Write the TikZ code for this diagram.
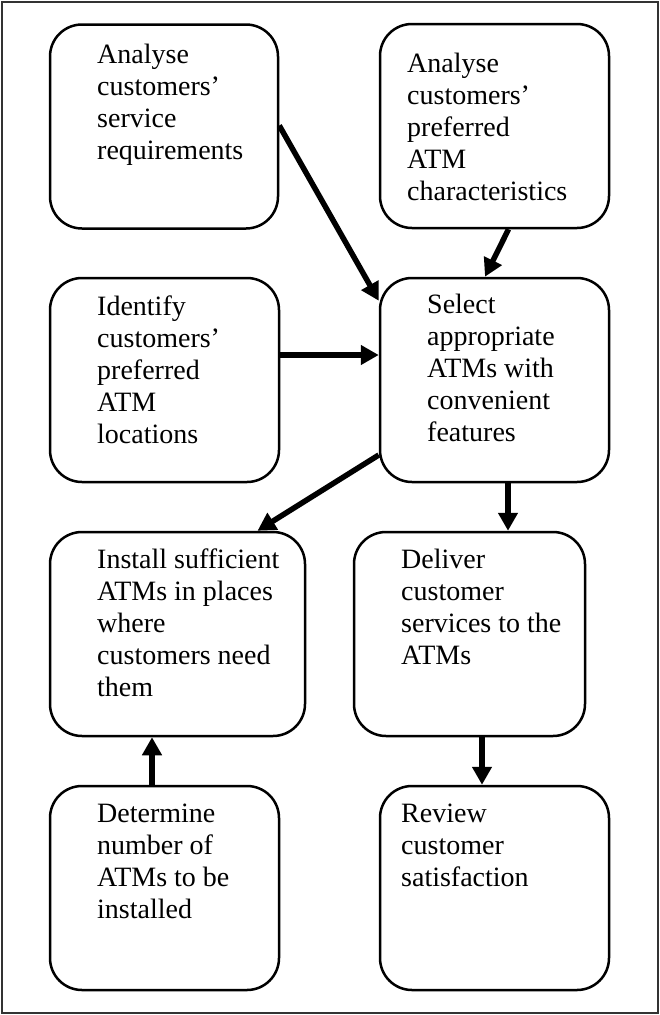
\documentclass[tikz,border=0pt]{standalone}
\usepackage{fontspec}
\setmainfont{Liberation Serif}
\usetikzlibrary{arrows.meta}

\begin{document}
\begin{tikzpicture}[x=1pt,y=1pt,
  box/.style={draw,line width=2.5pt,rounded corners=32pt,minimum height=204pt,inner sep=0pt},
  txt/.style={anchor=base west,align=left,inner sep=0pt,font=\fontsize{28pt}{32pt}\selectfont},
  arr/.style={line width=5.5pt,-{Triangle[length=18pt,width=19pt]}}]
  \useasboundingbox (0,0) rectangle (660,-1015);
  \draw[line width=1.5pt,black!80] (2,-2) rectangle (658,-1013);
  \node[box,minimum width=228pt] (req) at (164,-126.5) {}; \node[box,minimum width=229pt] (char) at (494.5,-126) {};
  \node[box,minimum width=229pt] (loc) at (164.5,-380) {}; \node[box,minimum width=229pt] (sel) at (494.5,-380) {};
  \node[box,minimum width=255pt] (inst) at (177.5,-634) {}; \node[box,minimum width=231pt] (dlv) at (469.5,-634) {};
  \node[box,minimum width=229pt] (num) at (164.5,-888) {}; \node[box,minimum width=229pt] (rev) at (494.5,-888) {};
  % anchors sit on the last line of each text
  \node[txt] (req-t) at (97,-159) {Analyse\\customers’\\service\\requirements};
  \node[txt] (char-t) at (407,-200) {Analyse\\customers’\\preferred\\ATM\\characteristics};
  \node[txt] (loc-t) at (97,-443) {Identify\\customers’\\preferred\\ATM\\locations};
  \node[txt] (sel-t) at (427,-441) {Select\\appropriate\\ATMs with\\convenient\\features};
  \node[txt] (inst-t) at (97,-696) {Install sufficient\\ATMs in places\\where\\customers need\\them};
  \node[txt] (dlv-t) at (401,-664) {Deliver\\customer\\services to the\\ATMs};
  \node[txt] (num-t) at (97,-918) {Determine\\number of\\ATMs to be\\installed};
  \node[txt] (rev-t) at (401,-886) {Review\\customer\\satisfaction};
  \draw[arr] ([yshift=1pt]req.east) -- ([yshift=-24pt]sel.north west);
  \draw[arr] ([xshift=14pt]char.south) -- ([xshift=-9.5pt]sel.north);
  \draw[arr] ([yshift=25pt]loc.east) -- ([yshift=25pt]sel.west);
  \draw[arr] ([yshift=-75pt]sel.west) -- ([xshift=80pt]inst.north);
  \draw[arr] ([xshift=13.5pt]sel.south) -- ([xshift=13.5pt]sel.south |- dlv.north);
  \draw[arr] ([xshift=12.5pt]dlv.south) -- ([xshift=12.5pt]dlv.south |- rev.north);
  \draw[arr] ([xshift=-12.5pt]num.north) -- ([xshift=-12.5pt]num.north |- inst.south);
\end{tikzpicture}
\end{document}
